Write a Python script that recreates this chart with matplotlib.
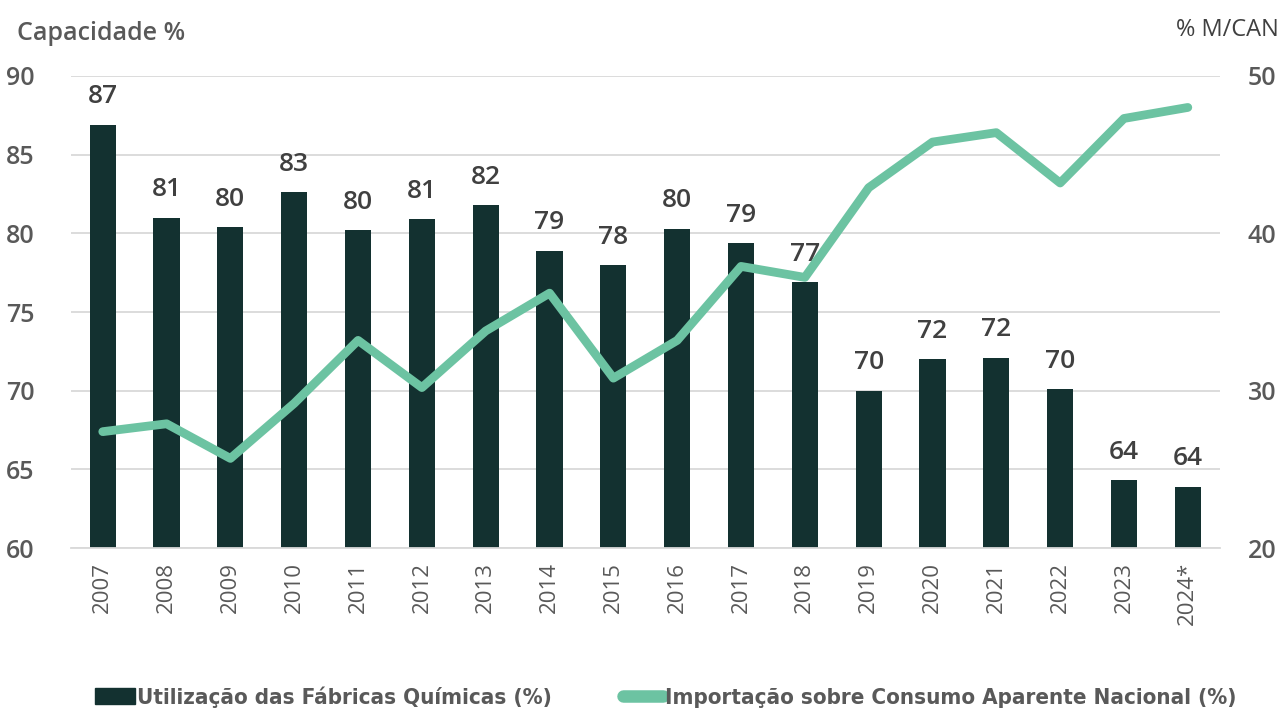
import matplotlib
matplotlib.use("Agg")
import matplotlib.pyplot as plt
from matplotlib.patches import Patch
from matplotlib.lines import Line2D
import numpy as np

plt.rcParams['font.family'] = ['Open Sans', 'DejaVu Sans']

years = ['2007', '2008', '2009', '2010', '2011', '2012', '2013', '2014', '2015',
         '2016', '2017', '2018', '2019', '2020', '2021', '2022', '2023', '2024*']
utilizacao = [86.9, 81.0, 80.4, 82.6, 80.2, 80.9, 81.8, 78.9, 78.0,
              80.3, 79.4, 76.9, 70.0, 72.0, 72.1, 70.1, 64.3, 63.9]
importacao = [27.4, 27.9, 25.7, 29.2, 33.2, 30.2, 33.8, 36.2, 30.8,
              33.2, 37.9, 37.2, 42.9, 45.8, 46.4, 43.2, 47.3, 48.0]

bar_color = '#133130'
line_color = '#6cc3a2'
tick_color = '#595959'
label_color = '#404040'

fig = plt.figure(figsize=(12.88, 7.10), dpi=100)
ax = fig.add_axes([0.055, 0.228, 0.892, 0.665])
ax2 = ax.twinx()

x = np.arange(len(years))
ax.bar(x, utilizacao, width=0.41, color=bar_color, zorder=2)
for xi, v in zip(x, utilizacao):
    ax.annotate('%d' % round(v), (xi, v), xytext=(0, 11), textcoords='offset points',
                ha='center', va='bottom', fontsize=19, fontweight='semibold',
                color=label_color)

ax2.plot(x, importacao, color=line_color, lw=6.3, solid_capstyle='round',
         solid_joinstyle='round', zorder=3)

ax.set_ylim(60, 90)
ax.set_yticks(np.arange(60, 91, 5))
ax2.set_ylim(20, 50)
ax2.set_yticks([20, 30, 40, 50])
ax.set_xlim(-0.5, len(years) - 0.5)
ax.set_xticks(x)
ax.set_xticklabels(years, rotation=90, fontsize=16, color=tick_color)

ax.grid(axis='y', color='#d9d9d9', lw=1.3, zorder=0)
ax.set_axisbelow(True)
for a in (ax, ax2):
    for s in a.spines.values():
        s.set_visible(False)
ax.spines['bottom'].set_visible(True)
ax.spines['bottom'].set_color('#d9d9d9')
ax.spines['bottom'].set_linewidth(1.3)

ax.tick_params(axis='y', length=0, pad=26, labelsize=18, labelcolor=tick_color)
for t in ax.get_yticklabels():
    t.set_fontweight('semibold')
ax2.tick_params(axis='y', length=0, pad=20, labelsize=18, labelcolor=tick_color)
for t in ax2.get_yticklabels():
    t.set_fontweight('semibold')
ax.tick_params(axis='x', length=0, pad=10)

fig.text(0.013, 0.953, 'Capacidade %', fontsize=18, fontweight='semibold',
         color=tick_color, va='center')
fig.text(0.993, 0.958, '% M/CAN', fontsize=17, color=label_color,
         ha='right', va='center')

handles = [Patch(facecolor=bar_color, edgecolor=bar_color),
           Line2D([0], [0], color=line_color, lw=9, solid_capstyle='round')]
labels = ['Utilização das Fábricas Químicas (%)',
          'Importação sobre Consumo Aparente Nacional (%)']
leg = fig.legend(handles, labels, loc='center', bbox_to_anchor=(0.517, 0.018),
                 ncol=2, frameon=False, handlelength=1.8, handletextpad=0.1,
                 columnspacing=3.2,
                 prop={'family': ['DejaVu Sans'], 'stretch': 'condensed',
                       'size': 16, 'weight': 'bold'})
for t in leg.get_texts():
    t.set_color(tick_color)

fig.savefig('out.png', dpi=100)
